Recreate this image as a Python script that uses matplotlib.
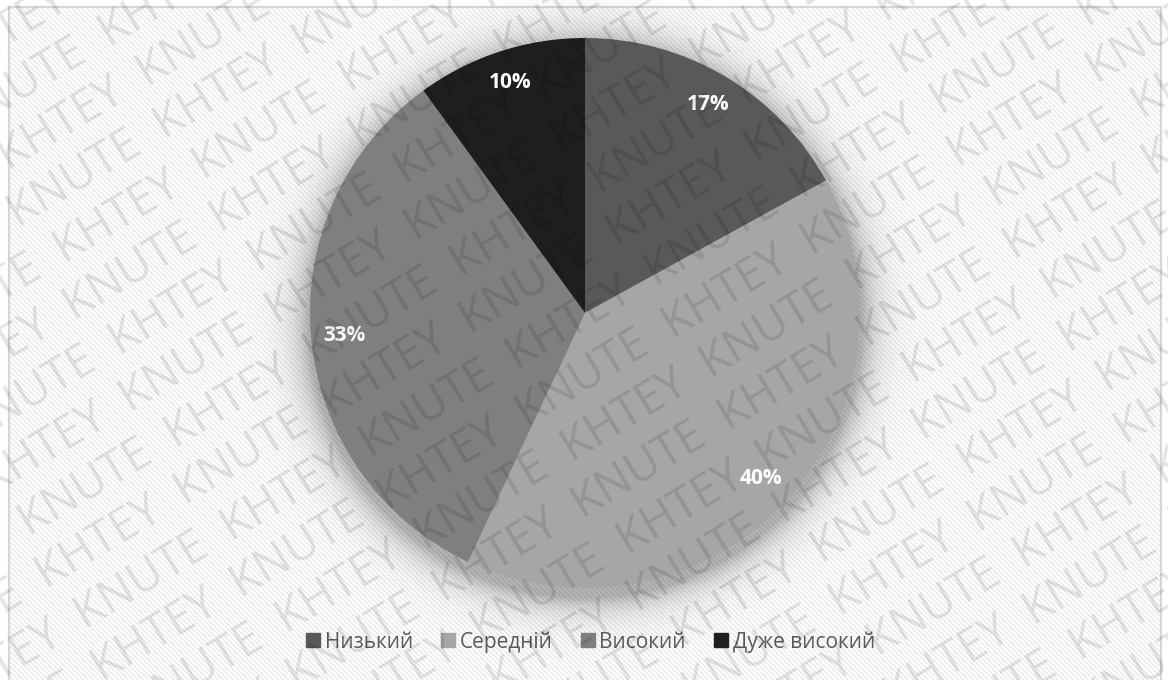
import numpy as np
import matplotlib
matplotlib.use("Agg")
import matplotlib.pyplot as plt
from matplotlib.lines import Line2D

# Data
categories = ["Низький", "Середній", "Високий", "Дуже високий"]
shares = [17, 40, 33, 10]
slice_colors = ["#595959", "#a6a6a6", "#7f7f7f", "#1e1e1e"]

W, H = 1168, 680
fig = plt.figure(figsize=(W / 100, H / 100), dpi=100)
fig.patch.set_facecolor("white")
ax = fig.add_axes([0, 0, 1, 1])

# Striped backdrop inside the chart frame
left, right, top = 10, 1160, 673
yy, xx = np.mgrid[0:top, 0:right - left]
stripe = ((xx - yy) % 5) < 2
bg = np.where(stripe, 0.92, 1.0)
ax.imshow(bg, cmap="gray", vmin=0, vmax=1, extent=[left, right, 0, top],
          origin="upper", interpolation="nearest", zorder=0)

# Chart frame (open at the bottom edge of the canvas)
ax.plot([9, 9, 1161, 1161], [-5, 673, 673, -5], color="#d6d6d6", lw=1.6,
        zorder=1, solid_joinstyle="miter")

# Soft drop shadow under the pie
cx, cy, R = 585, 367, 275
pad = 80
sx0, sx1 = cx - R - pad, cx + R + pad
sy0, sy1 = cy - R - pad, cy + R + pad
gy, gx = np.mgrid[sy1:sy0:-1, sx0:sx1]
dist = np.hypot(gx - cx, gy - (cy - 7)) - (R + 2)
alpha = 0.30 * np.exp(-np.clip(dist, 0, None) / 17.0)
shadow = np.zeros(gx.shape + (4,))
shadow[..., 3] = np.clip(alpha, 0, 1)
ax.imshow(shadow, extent=[sx0, sx1, sy0, sy1], origin="upper", zorder=1.5,
          interpolation="bilinear")

# Pie
wedges, texts, autotexts = ax.pie(
    shares, colors=slice_colors, startangle=90, counterclock=False,
    center=(cx, cy), radius=R, autopct=lambda p: f"{p:.0f}%",
    pctdistance=0.88, frame=True, wedgeprops=dict(linewidth=0),
    textprops=dict(color="white", fontsize=15, fontweight="bold",
                   family="Open Sans"))
for w in wedges:
    w.set_zorder(2)
for t in autotexts:
    t.set_zorder(5)

# Legend
handles = [Line2D([], [], marker="s", linestyle="none", markersize=9.5,
                  markerfacecolor=c, markeredgecolor=c) for c in slice_colors]
leg = ax.legend(handles, categories, loc="center", bbox_to_anchor=(591, 38),
                bbox_transform=ax.transData, ncol=4, frameon=False,
                prop=dict(family="Open Sans", size=15), labelcolor="#595959",
                handlelength=0.6, handletextpad=0.25, columnspacing=1.4)
leg.set_zorder(6)

# Repeated diagonal watermark
ang = 31.0
u = np.array([np.cos(np.radians(ang)), np.sin(np.radians(ang))])
n = np.array([np.sin(np.radians(ang)), -np.cos(np.radians(ang))])
wm_line = "KNUTE  KHTEY  " * 8
for k in range(-12, 15):
    base = k * 54 * n - 900 * u + (k % 2) * 150 * u
    ax.text(base[0], base[1], wm_line, rotation=ang, rotation_mode="anchor",
            ha="left", va="baseline", fontsize=33, family="Open Sans",
            color="black", alpha=0.11, zorder=10, clip_on=True)

ax.set_xlim(0, W)
ax.set_ylim(0, H)
ax.set_aspect("equal")
ax.axis("off")

fig.savefig("out.png", dpi=100)
